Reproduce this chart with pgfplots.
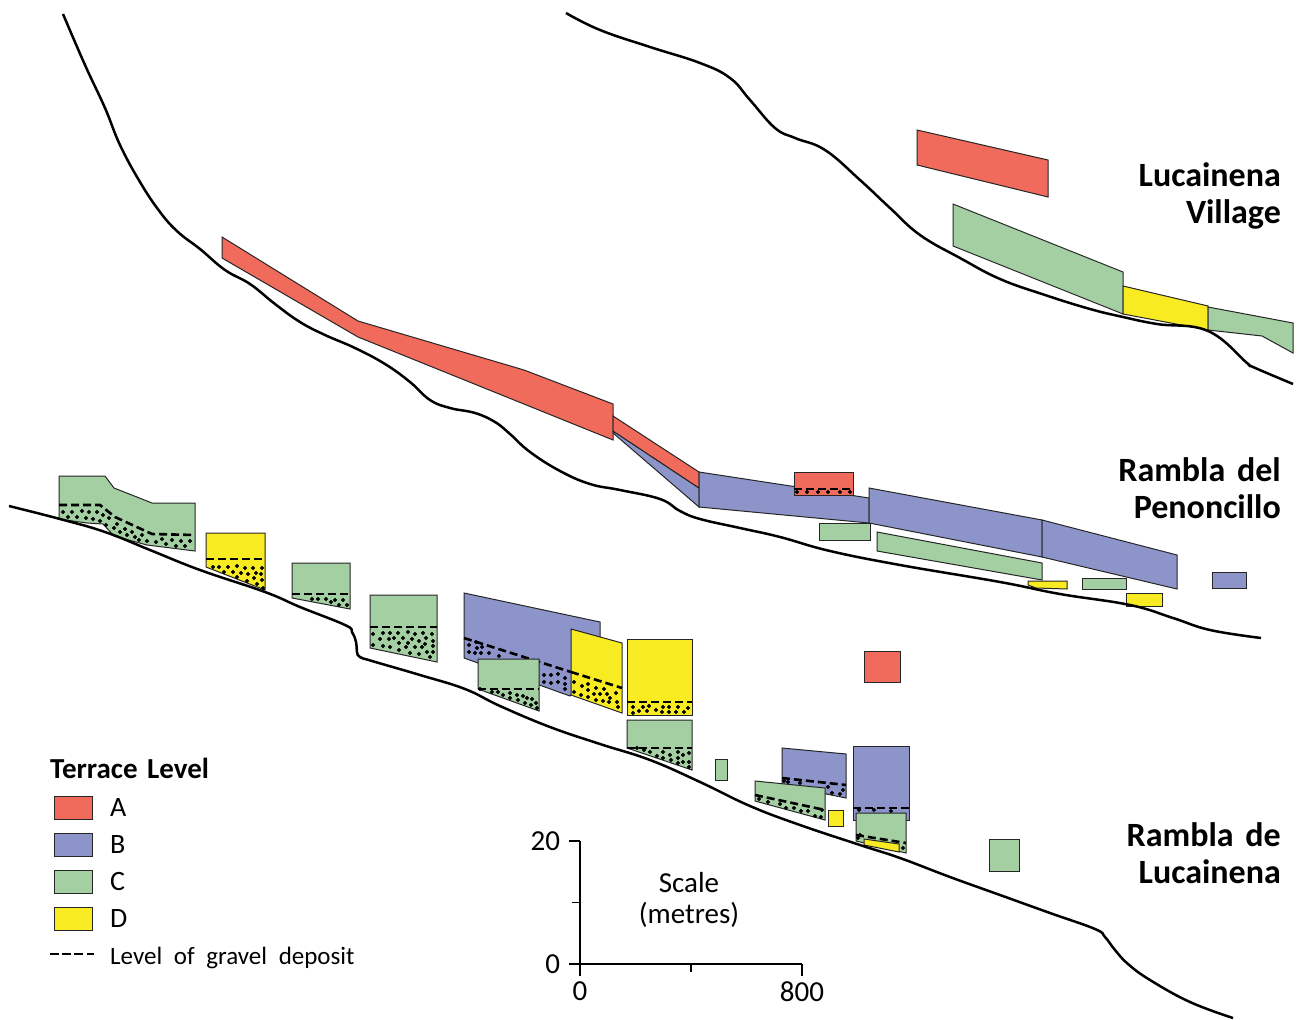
\documentclass[border=0pt]{standalone}
\usepackage{pgfplots}
\pgfplotsset{compat=1.18}
\usepackage{fontspec}
\setmainfont{Carlito}
\definecolor{terA}{RGB}{240,107,91}
\definecolor{terB}{RGB}{141,148,201}
\definecolor{terC}{RGB}{163,207,162}
\definecolor{terD}{RGB}{249,235,34}
\newcommand{\terr}[2]{\addplot[fill=#1,draw=black!85,line width=1pt,line join=miter,mark=none] coordinates {#2} -- cycle;}
\newcommand{\gravel}[1]{\addplot[black,line width=2.6pt,dash pattern=on 8pt off 4pt,mark=none] coordinates {#1};}
\newcommand{\pebbles}[1]{\addplot[only marks,mark=*,mark size=1.8pt,mark options={black,draw=black}] coordinates {#1};}
\newcommand{\river}[1]{\addplot[black,line width=2.5pt,smooth,tension=0.7,mark=none] coordinates {#1};}
\newcommand{\bigfont}{\fontsize{34}{40}\selectfont\bfseries}
\newcommand{\midfont}{\fontsize{28}{34}\selectfont}
\newcommand{\capfont}{\fontsize{29}{35}\selectfont}
\newcommand{\smlfont}{\fontsize{25}{30}\selectfont}
\begin{document}
\begin{tikzpicture}
\begin{axis}[
    at={(0pt,0pt)}, anchor=south west,
    width=1303pt, height=1019pt, scale only axis,
    xmin=0, xmax=1303, ymin=0, ymax=1019,
    y dir=reverse, hide axis, clip=false,
]
\path (axis cs:0,0) rectangle (axis cs:1303,1019);

% Lucainena Village
\terr{terA}{(917,130)(1048,160)(1048,197)(917,165)}
\terr{terC}{(953,204)(1123,272)(1123,314)(953,246)}
\terr{terD}{(1123,286)(1208,306)(1208,330)(1123,314)}
\terr{terC}{(1208,307)(1293,323)(1293,353)(1262,336)(1208,330)}
\river{(566,13)(600,30)(650,47)(700,63)(730,78)(750,100)(775,128)(795,138)(825,150)(860,180)(890,208)(920,235)(960,258)(1000,279)(1045,295)(1090,309)(1123,317)(1157,324)(1208,331)(1247,363)(1253,367)(1293,384)}

% Rambla del Penoncillo
\terr{terA}{(222,237)(358,321)(524,370)(613,404)(613,440)(358,337)(222,258)}
\terr{terB}{(613,431)(699,488)(699,507)(613,433)}
\terr{terA}{(613,416)(699,472)(699,488)(613,431)}
\terr{terB}{(699,472)(869,498)(869,523)(699,507)}
\terr{terA}{(794,472)(853,472)(853,495)(794,495)}
\gravel{(794,489)(853,489)}
\pebbles{(797,492)(807,492)(818,492)(828,492)(840,492)(850,492)}
\terr{terB}{(869,488)(1042,520)(1042,557)(869,523)}
\terr{terB}{(1042,520)(1177,555)(1177,589)(1042,557)}
\terr{terC}{(819,523)(870,523)(870,540)(819,540)}
\terr{terC}{(877,532)(1042,563)(1042,580)(877,551)}
\terr{terD}{(1028,581)(1067,581)(1067,589)(1036,588)(1028,585)}
\terr{terC}{(1082,578)(1126,578)(1126,589)(1082,589)}
\terr{terD}{(1126,593)(1162,593)(1162,606)(1126,606)}
\terr{terB}{(1212,572)(1246,572)(1246,588)(1212,588)}
\river{(63,14)(85,65)(105,108)(120,145)(140,182)(160,212)(178,232)(200,249)(225,270)(250,284)(275,304)(300,322)(325,335)(355,348)(385,364)(410,382)(430,400)(450,408)(475,413)(495,422)(510,434)(530,452)(560,471)(590,484)(620,490)(660,499)(680,511)(700,519)(740,528)(780,537)(830,551)(900,565)(1000,582)(1060,594)(1130,605)(1173,618)(1210,630)(1261,638)}

% Rambla de Lucainena
\terr{terC}{(59,476)(105,476)(114,488)(152,503)(195,503)(195,551)(147,545)(114,536)(103,524)(87,523)(59,519)}
\gravel{(59,505)(100,505)(115,517)(152,534)(195,535)}
\pebbles{(63,512)(72,512)(82,511)(89,512)(97,512)(103,515)(109,518)(68,517)(77,517)(86,518)(93,519)(100,521)(106,525)(117,524)(114,528)(125,529)(132,532)(120,532)(127,535)(135,537)(142,535)(139,540)(147,541)(156,542)(162,539)(172,540)(181,541)(190,541)(166,544)(176,546)(185,546)}
\terr{terD}{(206,533)(265,533)(265,590)(206,567)}
\gravel{(206,559)(265,559)}
\pebbles{(213,567)(219,567)(228,567)(237,566)(245,568)(253,568)(262,568)(224,572)(233,572)(241,573)(248,574)(256,573)(261,574)(237,577)(254,578)(262,580)(247,581)(257,584)(263,588)}
\terr{terC}{(292,563)(350,563)(350,609)(292,598)}
\gravel{(292,594)(350,594)}
\pebbles{(312,599)(318,599)(326,599)(331,602)(335,600)(343,600)(339,605)(347,605)}
\terr{terC}{(370,595)(437,595)(437,662)(370,648)}
\gravel{(370,627)(437,627)}
\pebbles{(373,634)(383,633)(390,633)(398,633)(408,632)(415,634)(423,633)(432,634)(380,639)(389,639)(394,638)(403,638)(412,639)(419,641)(426,638)(433,641)(399,643)(408,643)(425,644)(373,645)(383,646)(390,647)(406,647)(415,647)(422,647)(433,646)(399,650)(410,653)(419,654)(427,652)(433,652)(430,657)}
\terr{terB}{(464,593)(600,622)(600,660)(570,696)(464,658)}
\gravel{(464,638)(571,672)}
\pebbles{(469,645)(476,642)(482,647)(469,652)(475,653)(481,653)(489,653)(499,656)(544,675)(551,675)(558,674)(565,678)(544,682)(551,683)(558,682)(565,684)(565,689)(477,648)}
\terr{terC}{(478,659)(539,659)(539,711)(478,689)}
\gravel{(478,689)(539,689)}
\pebbles{(480,689)(492,692)(498,692)(503,695)(510,693)(510,698)(517,695)(518,700)(523,696)(527,698)(532,699)(525,703)(531,705)(536,703)(537,708)}
\terr{terD}{(571,629)(622,643)(622,713)(571,695)}
\gravel{(571,672)(622,688)}
\pebbles{(574,682)(582,686)(588,684)(574,692)(581,695)(588,690)(588,697)(596,688)(594,694)(604,689)(600,694)(607,694)(616,693)(610,698)(596,700)(603,701)(609,702)(617,702)(618,707)}
\terr{terD}{(627,639)(692,639)(692,715)(627,715)}
\gravel{(627,702)(692,702)}
\pebbles{(633,707)(639,711)(643,707)(649,706)(647,711)(656,710)(663,707)(662,712)(669,707)(669,712)(678,707)(676,712)(688,708)(684,712)(633,713)}
\terr{terC}{(627,720)(692,720)(692,770)(627,748)}
\gravel{(627,748)(692,748)}
\pebbles{(637,748)(644,750)(650,752)(657,756)(663,752)(663,758)(670,755)(671,760)(678,752)(678,758)(683,755)(689,753)(683,762)(689,762)(689,767)(678,763)}
\terr{terC}{(715,759)(727,759)(727,780)(715,780)}
\terr{terB}{(782,748)(846,754)(846,798)(782,785)}
\gravel{(782,778)(846,785)}
\pebbles{(784,781)(788,782)(800,783)(828,787)(832,793)(840,794)(843,790)}
\terr{terC}{(755,781)(825,788)(825,820)(755,801)}
\gravel{(755,795)(825,810)}
\pebbles{(759,799)(768,802)(780,804)(786,808)(794,808)(801,811)(808,811)(815,816)(822,810)(821,817)}
\terr{terD}{(828,810)(843,810)(843,826)(828,826)}
\terr{terB}{(853,746)(909,746)(909,820)(853,820)}
\gravel{(853,808)(909,808)}
\pebbles{(859,810)(874,810)(891,811)}
\terr{terC}{(856,813)(906,813)(906,853)(856,841)}
\gravel{(856,835)(906,843)}
\pebbles{(858,838)(860,835)(903,848)}
\terr{terD}{(864,839)(899,844)(899,852)(864,845)}
\terr{terA}{(864,651)(900,651)(900,682)(864,682)}
\terr{terC}{(989,839)(1019,839)(1019,871)(989,871)}
\river{(9,506)(60,519)(105,532)(150,550)(200,570)(265,592)(300,607)(345,625)(352,632)(356,642)(357,652)(360,657)(372,661)(420,675)(465,689)(500,706)(550,727)(600,744)(650,760)(700,782)(750,806)(800,825)(860,845)(900,858)(950,877)(1000,895)(1050,913)(1095,929)(1105,937)(1115,950)(1128,964)(1150,980)(1190,1002)(1233,1018)}

% legend
\terr{terA}{(54,796)(92,796)(92,819)(54,819)}
\terr{terB}{(54,833)(92,833)(92,856)(54,856)}
\terr{terC}{(54,870)(92,870)(92,893)(54,893)}
\terr{terD}{(54,907)(92,907)(92,930)(54,930)}
\addplot[black,line width=1.7pt,dash pattern=on 9pt off 3.2pt,mark=none] coordinates {(50,954)(94,954)};
\node[anchor=base west,inner sep=0pt] at (axis cs:50,778) {\fontsize{29}{34}\selectfont\bfseries Terrace\hspace{0.1em} Level};
\node[anchor=base west,inner sep=0pt] at (axis cs:110,816) {\midfont A};
\node[anchor=base west,inner sep=0pt] at (axis cs:110,853) {\midfont B};
\node[anchor=base west,inner sep=0pt] at (axis cs:110,890) {\midfont C};
\node[anchor=base west,inner sep=0pt] at (axis cs:110,927) {\midfont D};
\node[anchor=base west,inner sep=0pt] at (axis cs:110,964) {\smlfont Level\hspace{0.24em} of\hspace{0.24em} gravel\hspace{0.24em} deposit};

% place names
\node[anchor=base east,inner sep=0pt] at (axis cs:1281,186) {\bigfont Lucainena};
\node[anchor=base east,inner sep=0pt] at (axis cs:1281,223) {\bigfont Village};
\node[anchor=base east,inner sep=0pt] at (axis cs:1281,481) {\bigfont Rambla\hspace{0.12em} del};
\node[anchor=base east,inner sep=0pt] at (axis cs:1281,518) {\bigfont Penoncillo};
\node[anchor=base east,inner sep=0pt] at (axis cs:1281,846) {\bigfont Rambla\hspace{0.12em} de};
\node[anchor=base east,inner sep=0pt] at (axis cs:1281,883) {\bigfont Lucainena};

% scale caption
\node[anchor=base,inner sep=0pt] at (axis cs:689,892) {\capfont Scale};
\node[anchor=base,inner sep=0pt] at (axis cs:689,923) {\capfont (metres)};
\end{axis}

% scale bar
\begin{axis}[
    at={(580pt,55pt)}, anchor=south west,
    width=222pt, height=123pt, scale only axis,
    xmin=0, xmax=800, ymin=0, ymax=20,
    axis lines=left, axis line style={-, line width=1.7pt},
    tick align=outside, tick style={black, line width=1.7pt},
    minor tick style={black, line width=1.4pt},
    major tick length=11.5pt, minor tick length=8pt,
    xtick={0,800}, minor xtick={400},
    ytick={0,20}, minor ytick={10},
    /pgf/number format/assume math mode=true,
    tick label style={font=\capfont},
    xticklabel style={yshift=-3pt},
    yticklabel style={xshift=-5pt},
]
\addplot[draw=none,mark=none] coordinates {(0,0)(800,20)};
\end{axis}
\end{tikzpicture}
\end{document}
